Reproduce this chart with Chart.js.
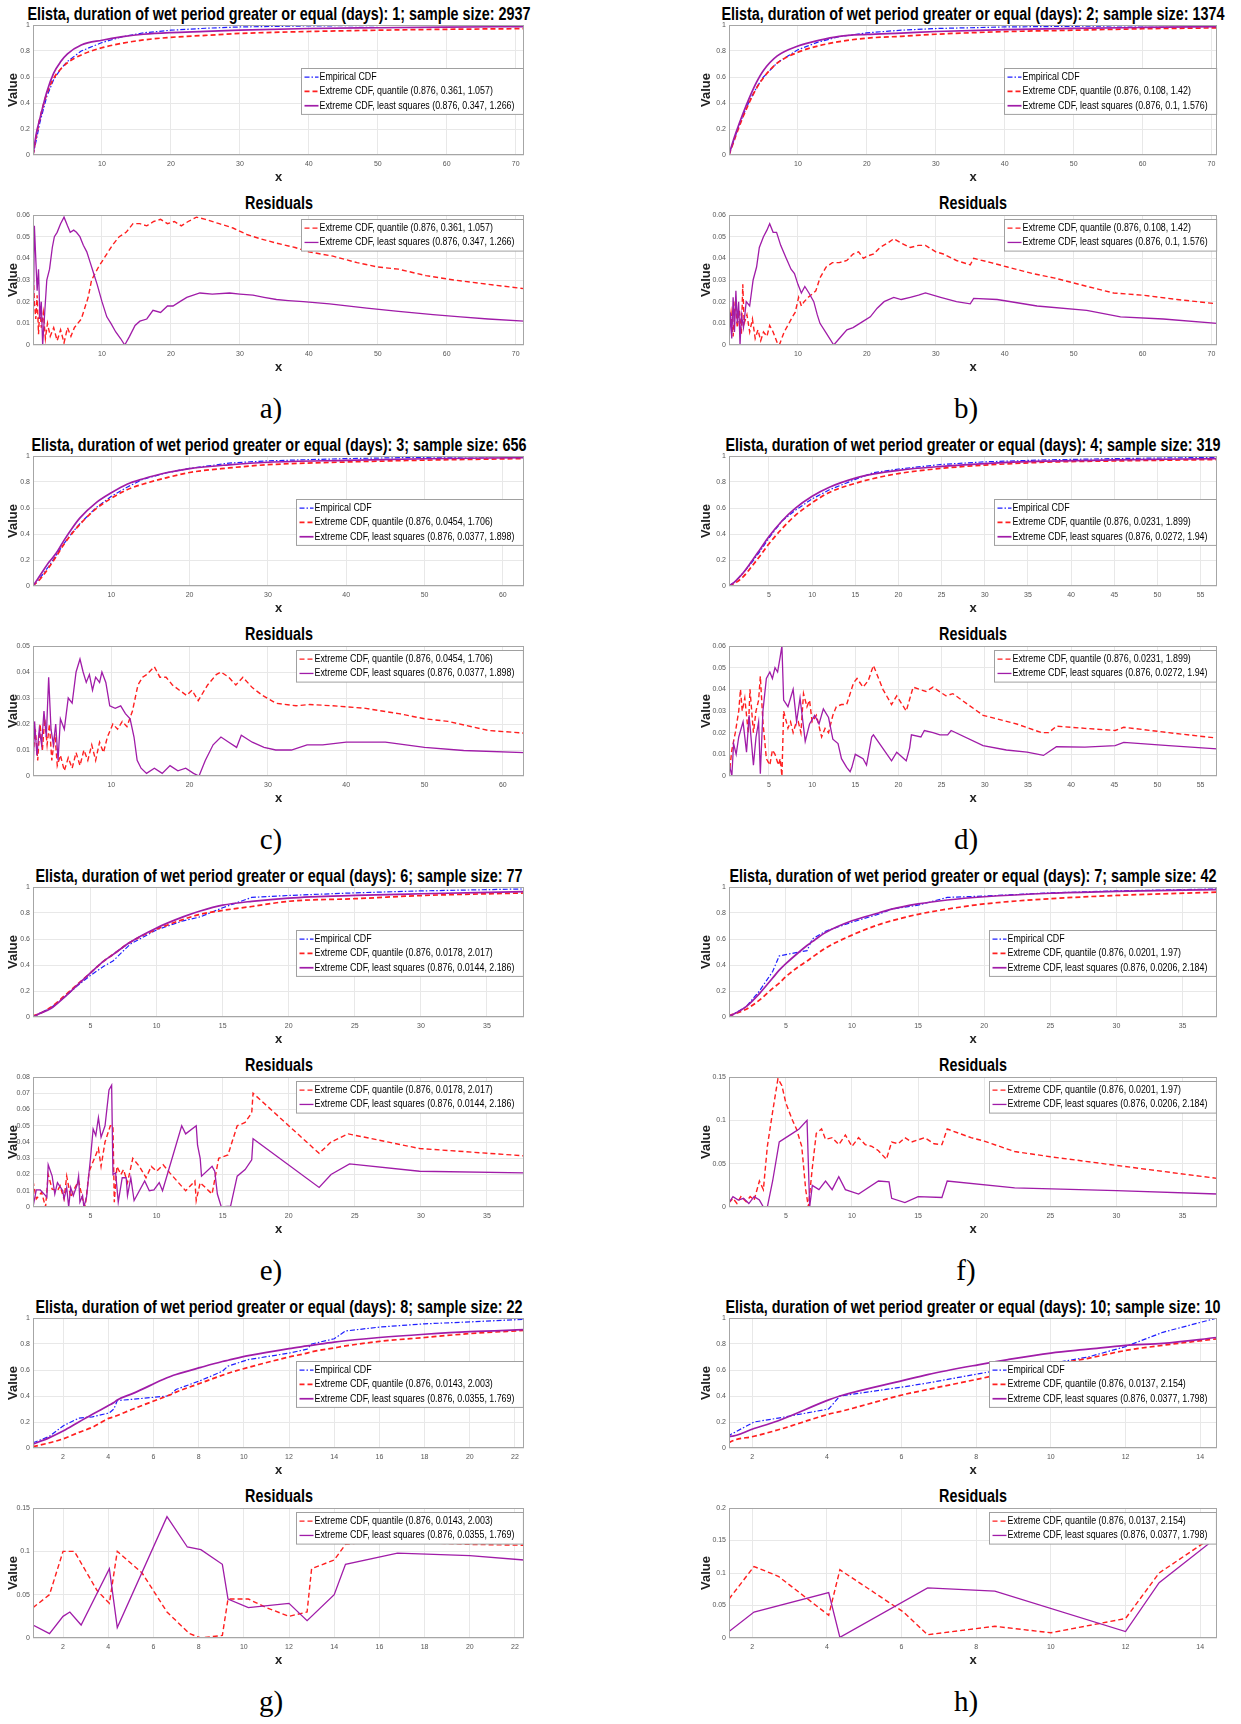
<!DOCTYPE html>
<html>
<head>
<meta charset="utf-8">
<script src="https://cdn.jsdelivr.net/npm/chart.js@4.4.1/dist/chart.umd.min.js"></script>
<style>
  body { margin: 0; background: #fff; width: 1241px; height: 1724px; position: relative; overflow: hidden; }
  canvas { position: absolute; }
  .ttl { position: absolute; font: bold 18px "Liberation Sans", Arial, sans-serif; white-space: nowrap; line-height: 1; color: #000; }
  .lbl { position: absolute; font: 29px "Liberation Serif", "DejaVu Serif", serif; line-height: 1; transform: translate(-50%, -50%); }
</style>
</head>
<body>
<script>
// ---- data: top CDF panels (shared x grid per panel) ----
const aX   = [0, 0.5, 1, 2, 3, 4, 5, 7, 10, 13, 16, 20, 25, 30, 40, 50, 60, 71.2];
const aEmp = [0, 0.12, 0.25, 0.45, 0.58, 0.66, 0.72, 0.8, 0.865, 0.91, 0.94, 0.96, 0.975, 0.985, 0.993, 0.996, 0.998, 0.999];
const aQua = [0, 0.15, 0.28, 0.47, 0.59, 0.66, 0.71, 0.77, 0.825, 0.86, 0.885, 0.905, 0.92, 0.935, 0.95, 0.96, 0.967, 0.972];
const aLsq = [0, 0.17, 0.28, 0.485, 0.63, 0.717, 0.778, 0.846, 0.883, 0.91, 0.929, 0.942, 0.951, 0.961, 0.973, 0.979, 0.984, 0.988];

const bX   = [0, 0.5, 1, 2, 3, 4, 5, 7, 10, 13, 16, 20, 25, 30, 40, 50, 60, 70.8];
const bEmp = [0, 0.08, 0.16, 0.3, 0.42, 0.52, 0.6, 0.71, 0.81, 0.87, 0.91, 0.94, 0.96, 0.973, 0.985, 0.99, 0.994, 0.997];
const bQua = [0, 0.075, 0.15, 0.29, 0.41, 0.515, 0.595, 0.707, 0.79, 0.84, 0.872, 0.899, 0.913, 0.929, 0.949, 0.96, 0.971, 0.978];
const bLsq = [0, 0.09, 0.17, 0.315, 0.445, 0.56, 0.65, 0.762, 0.838, 0.882, 0.913, 0.928, 0.938, 0.95, 0.964, 0.974, 0.981, 0.987];

const cX   = [0, 1, 2, 3, 4, 5, 6, 8, 10, 12, 14, 17, 20, 25, 30, 40, 50, 62.7];
const cEmp = [0, 0.07, 0.15, 0.24, 0.33, 0.41, 0.48, 0.6, 0.69, 0.76, 0.82, 0.87, 0.905, 0.945, 0.963, 0.98, 0.99, 0.996];
const cQua = [0, 0.06, 0.14, 0.23, 0.325, 0.405, 0.475, 0.592, 0.675, 0.74, 0.783, 0.832, 0.873, 0.908, 0.933, 0.954, 0.968, 0.98];
const cLsq = [0, 0.09, 0.18, 0.255, 0.355, 0.445, 0.524, 0.638, 0.717, 0.783, 0.823, 0.871, 0.903, 0.932, 0.952, 0.967, 0.979, 0.987];

const dX   = [0.37, 1, 2, 3, 4, 5, 6.5, 8, 10, 12, 15, 17, 20, 25, 30, 37, 45, 56.9];
const dEmp = [0, 0.03, 0.1, 0.18, 0.27, 0.37, 0.5, 0.58, 0.67, 0.74, 0.82, 0.87, 0.9, 0.935, 0.955, 0.97, 0.98, 0.99];
const dQua = [0, 0.02, 0.07, 0.15, 0.235, 0.325, 0.44, 0.54, 0.64, 0.72, 0.79, 0.825, 0.865, 0.905, 0.93, 0.952, 0.962, 0.973];
const dLsq = [0, 0.03, 0.1, 0.19, 0.285, 0.38, 0.5, 0.595, 0.69, 0.76, 0.83, 0.86, 0.89, 0.92, 0.942, 0.96, 0.97, 0.98];

const eX   = [0.65, 1, 2, 3, 4, 5, 6, 6.7, 8, 10, 12, 13.3, 15, 17.2, 20, 25, 30, 37.8];
const eEmp = [0, 0.02, 0.07, 0.15, 0.24, 0.32, 0.39, 0.43, 0.56, 0.67, 0.74, 0.77, 0.84, 0.92, 0.935, 0.955, 0.97, 0.985];
const eQua = [0.01, 0.02, 0.075, 0.16, 0.25, 0.34, 0.43, 0.48, 0.575, 0.675, 0.75, 0.79, 0.82, 0.85, 0.89, 0.91, 0.934, 0.954];
const eLsq = [0, 0.02, 0.065, 0.15, 0.245, 0.34, 0.43, 0.48, 0.575, 0.685, 0.77, 0.815, 0.86, 0.89, 0.915, 0.935, 0.948, 0.965];

const fX   = [0.7, 1, 2, 3, 4, 4.5, 5, 6, 6.6, 7, 8, 10, 12, 13, 15, 17.2, 20, 25, 30, 37.6];
const fEmp = [0, 0.02, 0.08, 0.2, 0.35, 0.47, 0.48, 0.5, 0.51, 0.6, 0.66, 0.73, 0.79, 0.83, 0.86, 0.92, 0.93, 0.955, 0.97, 0.985];
const fQua = [0.01, 0.02, 0.06, 0.13, 0.22, 0.26, 0.31, 0.39, 0.43, 0.46, 0.53, 0.63, 0.71, 0.74, 0.79, 0.83, 0.87, 0.91, 0.935, 0.96];
const fLsq = [0.01, 0.02, 0.08, 0.18, 0.3, 0.36, 0.41, 0.5, 0.55, 0.58, 0.65, 0.74, 0.8, 0.83, 0.87, 0.9, 0.925, 0.952, 0.966, 0.98];

const gX   = [0.67, 1.4, 2, 2.7, 3.3, 4.05, 4.25, 4.4, 5.1, 6.6, 6.75, 7, 8.1, 9.05, 9.3, 10.2, 12, 12.8, 13, 14, 14.5, 16, 18, 20, 22.4];
const gEmp = [0.04, 0.09, 0.17, 0.23, 0.24, 0.27, 0.3, 0.365, 0.375, 0.4, 0.41, 0.45, 0.52, 0.59, 0.63, 0.68, 0.73, 0.76, 0.8, 0.84, 0.9, 0.93, 0.955, 0.97, 0.99];
const gQua = [0.01, 0.04, 0.07, 0.12, 0.16, 0.23, 0.24, 0.25, 0.3, 0.4, 0.41, 0.43, 0.5, 0.56, 0.575, 0.62, 0.7, 0.73, 0.74, 0.77, 0.785, 0.82, 0.85, 0.88, 0.905];
const gLsq = [0.03, 0.08, 0.13, 0.2, 0.26, 0.33, 0.35, 0.37, 0.42, 0.54, 0.55, 0.565, 0.62, 0.665, 0.675, 0.71, 0.765, 0.785, 0.79, 0.815, 0.825, 0.85, 0.875, 0.895, 0.91];

const hX   = [1.38, 1.4, 2.05, 2.7, 4.05, 4.35, 6.05, 6.7, 8.05, 8.85, 10, 11, 12, 13, 14.45];
const hEmp = [0, 0.1, 0.2, 0.23, 0.3, 0.4, 0.47, 0.5, 0.57, 0.61, 0.65, 0.7, 0.78, 0.89, 1.0];
const hQua = [0.04, 0.045, 0.09, 0.14, 0.26, 0.28, 0.41, 0.45, 0.53, 0.58, 0.64, 0.69, 0.75, 0.79, 0.84];
const hLsq = [0.09, 0.09, 0.15, 0.21, 0.37, 0.4, 0.52, 0.565, 0.64, 0.68, 0.73, 0.76, 0.79, 0.805, 0.85];

// ---- data: residuals, [x, value] pairs ----
const aResQua = [[0,0.035],[0.2,0.02],[0.4,0.012],[0.6,0.023],[0.8,0.005],[1,0.018],[1.2,0.008],[1.5,0.015],[1.8,0.003],[2.1,0.01],[2.5,0.004],[3,0.008],[3.5,0.002],[4,0.007],[4.5,0.001],[5,0.008],[5.5,0.004],[6,0.008],[7,0.012],[8,0.022],[8.5,0.03],[9.5,0.036],[10.5,0.041],[11.5,0.046],[12.5,0.05],[13.5,0.052],[14.5,0.056],[15.5,0.056],[16.5,0.055],[17.5,0.057],[18.5,0.058],[19.5,0.056],[20.5,0.057],[21.5,0.055],[22.5,0.057],[23.7,0.059],[25,0.058],[27,0.056],[29,0.054],[31,0.051],[33,0.049],[35.3,0.047],[38,0.045],[40,0.043],[43.5,0.041],[47,0.038],[50,0.036],[53,0.035],[57,0.032],[61,0.03],[66,0.028],[71.2,0.026]];
const aResLsq = [[0,0],[0.2,0.055],[0.4,0.04],[0.6,0.025],[0.8,0.035],[1,0.012],[1.2,0.02],[1.4,0],[1.7,0.015],[2,0.03],[2.4,0.035],[2.8,0.045],[3.1,0.05],[3.5,0.052],[4,0.056],[4.5,0.059],[5,0.055],[5.4,0.052],[5.9,0.053],[6.3,0.052],[6.8,0.05],[7.3,0.046],[7.8,0.043],[8.3,0.038],[8.8,0.033],[9.3,0.028],[10,0.02],[10.7,0.013],[11.3,0.01],[12,0.006],[12.7,0.003],[13.3,0],[14,0.004],[14.8,0.009],[15.5,0.011],[16.5,0.012],[17.4,0.016],[18.5,0.015],[19.5,0.018],[20.3,0.018],[21.3,0.02],[22.3,0.022],[24.2,0.024],[26,0.0235],[28.5,0.024],[30,0.0235],[31.9,0.023],[33.5,0.022],[35.3,0.021],[37,0.0205],[39.2,0.02],[43,0.019],[48.4,0.017],[53,0.0155],[58,0.014],[62,0.013],[66,0.012],[71.2,0.011]];

const bResQua = [[0,0.007],[0.3,0.015],[0.6,0.004],[0.9,0.02],[1.2,0.008],[1.5,0.016],[1.8,0.005],[2,0.028],[2.2,0.01],[2.6,0.014],[3,0.006],[3.4,0.012],[3.8,0.003],[4.2,0.007],[4.6,0.002],[5,0.006],[5.5,0.004],[5.9,0.009],[6.4,0.006],[7,0.001],[7.3,0],[8,0.006],[8.7,0.01],[9.2,0.013],[9.6,0.015],[10.1,0.022],[10.5,0.018],[10.9,0.02],[11.5,0.022],[12.6,0.025],[13.2,0.031],[14.1,0.036],[15,0.038],[16,0.038],[17.1,0.039],[18,0.042],[18.8,0.043],[19.5,0.04],[20,0.041],[21,0.042],[21.9,0.045],[23,0.047],[23.9,0.049],[25,0.047],[26.3,0.045],[27.5,0.046],[28.5,0.046],[30,0.043],[31.1,0.042],[33,0.039],[35,0.037],[35.5,0.04],[38,0.038],[40.4,0.036],[44,0.033],[47.1,0.031],[52,0.027],[55.8,0.024],[60,0.023],[65,0.021],[70.8,0.019]];
const bResLsq = [[0,0],[0.2,0.015],[0.4,0.003],[0.6,0.022],[0.8,0.006],[1,0.025],[1.2,0.01],[1.4,0.02],[1.6,0],[1.8,0.014],[2.1,0.008],[2.5,0.02],[3,0.018],[3.5,0.03],[4,0.036],[4.4,0.045],[5,0.05],[5.5,0.053],[5.9,0.056],[6.4,0.052],[6.9,0.052],[7.5,0.046],[8.3,0.04],[9,0.035],[9.5,0.033],[10,0.028],[10.5,0.024],[11,0.027],[11.6,0.024],[12.3,0.02],[12.8,0.014],[13.2,0.01],[14.2,0.005],[15.2,0],[16,0.003],[17.1,0.007],[18,0.008],[19.5,0.011],[20.5,0.013],[21.5,0.017],[22.5,0.02],[23.9,0.022],[25,0.021],[26.3,0.022],[27.5,0.023],[28.5,0.024],[30.7,0.022],[33,0.02],[35,0.019],[35.5,0.0215],[38.9,0.021],[44.7,0.018],[51.9,0.016],[56.8,0.013],[63,0.012],[70.8,0.01]];

const cResQua = [[0,0.008],[0.3,0.018],[0.6,0.006],[0.9,0.02],[1.2,0.01],[1.5,0.022],[1.8,0.012],[2.1,0.02],[2.4,0.006],[2.8,0.016],[3.1,0.004],[3.5,0.008],[4,0.002],[4.5,0.007],[5,0.003],[5.5,0.009],[6,0.004],[6.5,0.01],[7,0.006],[7.5,0.012],[8,0.006],[8.5,0.013],[9,0.009],[9.5,0.015],[10.2,0.02],[10.8,0.018],[11.4,0.021],[12,0.019],[12.7,0.025],[13.4,0.035],[14,0.038],[14.5,0.039],[15.5,0.042],[16.2,0.038],[17,0.038],[17.8,0.035],[18.7,0.033],[19.6,0.031],[20.3,0.033],[21.1,0.029],[22.3,0.035],[23.4,0.039],[24,0.04],[25,0.038],[25.9,0.035],[26.8,0.038],[28,0.034],[29.3,0.031],[31,0.028],[33.6,0.027],[35.3,0.0275],[38.3,0.027],[42.5,0.026],[46.7,0.024],[50,0.022],[53,0.021],[58.2,0.0175],[62.7,0.0165]];
const cResLsq = [[0,0],[0.2,0.021],[0.5,0.008],[0.8,0.018],[1.1,0.012],[1.4,0.025],[1.7,0.015],[2,0.038],[2.3,0.018],[2.6,0.012],[2.9,0.02],[3.2,0.006],[3.5,0.022],[4,0.018],[4.5,0.03],[5,0.028],[5.5,0.04],[6,0.045],[6.4,0.04],[6.8,0.036],[7.2,0.039],[7.6,0.033],[8,0.038],[8.5,0.036],[8.8,0.04],[9.3,0.036],[9.8,0.027],[10.5,0.026],[11.2,0.027],[11.8,0.024],[12.4,0.022],[12.9,0.015],[13.3,0.006],[13.8,0.003],[14.5,0.001],[15.5,0.003],[16.5,0.001],[17.5,0.004],[18.5,0.002],[19.5,0.003],[20.5,0.001],[21.2,0],[22,0.006],[23,0.012],[24,0.015],[25,0.013],[26,0.011],[26.6,0.0157],[28,0.013],[29.5,0.011],[31,0.01],[33,0.01],[35,0.012],[37,0.012],[40,0.013],[45,0.013],[50,0.011],[55,0.0098],[62.7,0.009]];

const dResQua = [[0.37,0],[0.7,0.012],[1.1,0.02],[1.5,0.03],[1.7,0.04],[1.9,0.03],[2.2,0.036],[2.6,0.02],[2.8,0.04],[3.2,0.02],[3.5,0.03],[3.8,0.035],[4,0.046],[4.3,0.025],[4.7,0.008],[5.1,0.005],[5.4,0.012],[5.7,0.01],[6.1,0.005],[6.3,0.008],[6.5,0],[6.7,0.03],[7.2,0.022],[7.5,0.025],[7.8,0.02],[8.1,0.024],[8.4,0.025],[8.7,0.02],[9,0.038],[9.4,0.032],[9.7,0.035],[10,0.025],[10.5,0.028],[11.1,0.018],[11.5,0.022],[11.9,0.02],[12.4,0.028],[12.8,0.032],[13.4,0.033],[14,0.033],[14.8,0.043],[15.2,0.045],[15.9,0.041],[16.5,0.044],[17.1,0.051],[18.2,0.04],[19.2,0.033],[19.8,0.037],[20.9,0.03],[21.7,0.041],[23.2,0.039],[24,0.041],[25.5,0.037],[26.3,0.038],[29.8,0.028],[33.7,0.024],[36.6,0.02],[37.4,0.02],[38.3,0.023],[41.6,0.022],[45.1,0.021],[46.1,0.0225],[51.3,0.02],[56.9,0.0175]];
const dResLsq = [[0.37,0.006],[0.7,0],[0.9,0.015],[1.2,0.01],[1.5,0.018],[2,0.025],[2.4,0.011],[2.7,0.028],[3.2,0.005],[3.5,0.018],[3.8,0.025],[4,0.001],[4.3,0.03],[4.7,0.045],[5.1,0.048],[5.4,0.045],[5.7,0.05],[6,0.048],[6.3,0.055],[6.5,0.06],[6.7,0.035],[7.2,0.032],[7.5,0.036],[7.8,0.04],[8.2,0.025],[8.6,0.036],[9.2,0.016],[9.7,0.024],[10.3,0.028],[10.8,0.024],[11.3,0.031],[11.9,0.027],[12.4,0.017],[13,0.015],[13.4,0.008],[14,0.004],[14.4,0.002],[14.6,0.004],[15,0.01],[15.9,0.008],[16.3,0.005],[16.9,0.018],[17.1,0.019],[19.2,0.007],[19.8,0.011],[20.9,0.007],[21.3,0.013],[21.5,0.019],[22.6,0.018],[23,0.021],[24,0.02],[24.8,0.019],[25.7,0.019],[26.1,0.021],[29.8,0.014],[32.5,0.012],[34.9,0.011],[36.8,0.0095],[38.3,0.0135],[41.6,0.0133],[45.1,0.014],[46.1,0.0155],[51.3,0.014],[56.9,0.0125]];

const eResQua = [[0.65,0.016],[0.9,0.005],[1.3,0.009],[1.6,0],[1.8,0.02],[2.1,0.011],[2.5,0.01],[2.7,0.013],[3,0.005],[3.2,0.019],[3.5,0.006],[3.7,0.01],[4.1,0.016],[4.4,0.005],[4.6,0],[4.9,0.022],[5.3,0.03],[5.6,0.036],[5.8,0.025],[6.1,0.04],[6.5,0.05],[6.7,0.05],[6.8,0.003],[7,0.025],[7.3,0.02],[7.5,0.023],[7.8,0.015],[8.2,0.03],[8.7,0.025],[9.2,0.018],[9.6,0.025],[10,0.022],[10.5,0.026],[11,0.021],[12.2,0.01],[12.9,0.016],[13,0.004],[13.3,0.015],[14.2,0.008],[14.7,0.03],[15.4,0.032],[16.1,0.05],[16.7,0.052],[17.2,0.058],[17.3,0.07],[22.3,0.033],[23.2,0.04],[24.5,0.045],[29.9,0.036],[37.8,0.0315]];
const eResLsq = [[0.65,0],[0.9,0.0105],[1.2,0.0105],[1.6,0.007],[1.7,0.006],[1.8,0.026],[2.1,0.019],[2.3,0.008],[2.5,0.015],[2.9,0.01],[3,0.005],[3.2,0.012],[3.35,0],[3.5,0.012],[3.7,0.007],[4,0.014],[4.1,0.019],[4.2,0.003],[4.4,0.007],[4.5,0],[4.7,0.006],[5,0.03],[5.2,0.048],[5.4,0.044],[5.6,0.055],[5.8,0.043],[6.1,0.05],[6.4,0.072],[6.6,0.075],[6.7,0.02],[6.9,0.021],[7.1,0.003],[7.4,0.018],[7.7,0.018],[7.8,0.007],[8.05,0.018],[8.3,0.004],[9.1,0.016],[9.45,0.01],[9.8,0.0105],[10.2,0.015],[10.45,0.01],[11.9,0.05],[12.2,0.045],[13,0.05],[13.1,0.038],[13.3,0.03],[13.4,0.019],[14.2,0.025],[14.4,0.022],[14.6,0.008],[14.9,0],[15.6,0.0005],[16.1,0.019],[16.7,0.023],[17.2,0.029],[17.3,0.042],[22.3,0.012],[23.2,0.02],[24.6,0.0265],[29.9,0.022],[37.8,0.021]];

const fResQua = [[0.7,0.005],[1,0.01],[1.3,0.004],[1.6,0.012],[2,0.006],[2.3,0.012],[2.6,0.008],[3,0.03],[3.3,0.02],[3.6,0.07],[4,0.11],[4.4,0.148],[4.7,0.14],[5,0.12],[5.5,0.1],[5.8,0.09],[6.2,0.07],[6.5,0.02],[6.7,0],[7,0.045],[7.3,0.085],[7.7,0.09],[8,0.078],[8.5,0.08],[9,0.072],[9.5,0.083],[10,0.07],[10.5,0.08],[11,0.072],[11.5,0.07],[12,0.065],[12.6,0.055],[13,0.075],[13.5,0.073],[14,0.08],[14.5,0.075],[15.5,0.08],[16.2,0.073],[16.8,0.072],[17.2,0.09],[19,0.08],[20,0.076],[22.3,0.064],[25,0.058],[30,0.048],[37.6,0.033]];
const fResLsq = [[0.7,0.005],[1,0.012],[1.4,0.008],[1.8,0.01],[2.2,0.004],[2.6,0.012],[3,0.008],[3.3,0],[3.6,0],[4,0.03],[4.5,0.075],[5,0.08],[5.5,0.085],[6,0.09],[6.6,0.1],[6.8,0],[7,0.025],[7.5,0.02],[8,0.03],[8.5,0.02],[9,0.035],[9.5,0.02],[10.5,0.015],[12,0.03],[12.8,0.029],[13,0.01],[14,0.005],[15,0.012],[16.8,0.011],[17.2,0.03],[22.3,0.022],[30,0.019],[37.6,0.015]];

const gResQua = [[0.67,0.035],[1.4,0.05],[2,0.1],[2.5,0.1],[3.5,0.055],[4.05,0.04],[4.4,0.1],[5.5,0.075],[6.6,0.03],[7,0.02],[7.6,0.005],[8.1,0],[9.05,0.003],[9.3,0.045],[10.2,0.045],[11,0.035],[12,0.025],[12.8,0.03],[13,0.08],[14,0.09],[14.5,0.108],[16,0.112],[18,0.11],[20,0.108],[22.4,0.107]];
const gResLsq = [[0.67,0.015],[1.4,0.005],[2,0.025],[2.3,0.03],[2.8,0.015],[4.05,0.08],[4.4,0.012],[6.6,0.14],[7.5,0.105],[8.1,0.102],[9.05,0.085],[9.3,0.045],[10.2,0.035],[12,0.04],[12.8,0.02],[14,0.05],[14.5,0.085],[16.8,0.098],[20,0.095],[22.4,0.09]];

const hResQua = [[1.38,0.06],[2.05,0.11],[2.7,0.095],[4.05,0.035],[4.35,0.105],[6.05,0.04],[6.7,0.005],[8.5,0.018],[10,0.008],[12,0.03],[12.9,0.1],[14.45,0.16]];
const hResLsq = [[1.38,0.01],[2.05,0.04],[4.05,0.07],[4.35,0.001],[6.7,0.077],[8.5,0.072],[12,0.01],[12.9,0.085],[14.45,0.155]];

// ---- tick values ----
const xTicks10 = [10, 20, 30, 40, 50, 60, 70];
const xTicks10c = [10, 20, 30, 40, 50, 60];
const xTicks5d = [5, 10, 15, 20, 25, 30, 35, 40, 45, 50, 55];
const xTicks5 = [5, 10, 15, 20, 25, 30, 35];
const xTicks2g = [2, 4, 6, 8, 10, 12, 14, 16, 18, 20, 22];
const xTicks2h = [2, 4, 6, 8, 10, 12, 14];
const yTicksCdf = [0, 0.2, 0.4, 0.6, 0.8, 1];
const yTicks06 = [0, 0.01, 0.02, 0.03, 0.04, 0.05, 0.06];
const yTicks05 = [0, 0.01, 0.02, 0.03, 0.04, 0.05];
const yTicks08 = [0, 0.01, 0.02, 0.03, 0.04, 0.05, 0.06, 0.07, 0.08];
const yTicks15 = [0, 0.05, 0.1, 0.15];
const yTicks20 = [0, 0.05, 0.1, 0.15, 0.2];

const panels = [
  {tag: 'a)', days: 1,  size: 2937, x: aX, emp: aEmp, qua: aQua, lsq: aLsq, rq: aResQua, rl: aResLsq, xMin: 0,    xMax: 71.2,  xt: xTicks10,  rMax: 0.06, rt: yTicks06, qp: '(0.876, 0.361, 1.057)',  lp: '(0.876, 0.347, 1.266)'},
  {tag: 'b)', days: 2,  size: 1374, x: bX, emp: bEmp, qua: bQua, lsq: bLsq, rq: bResQua, rl: bResLsq, xMin: 0,    xMax: 70.8,  xt: xTicks10,  rMax: 0.06, rt: yTicks06, qp: '(0.876, 0.108, 1.42)',   lp: '(0.876, 0.1, 1.576)'},
  {tag: 'c)', days: 3,  size: 656,  x: cX, emp: cEmp, qua: cQua, lsq: cLsq, rq: cResQua, rl: cResLsq, xMin: 0,    xMax: 62.7,  xt: xTicks10c, rMax: 0.05, rt: yTicks05, qp: '(0.876, 0.0454, 1.706)', lp: '(0.876, 0.0377, 1.898)'},
  {tag: 'd)', days: 4,  size: 319,  x: dX, emp: dEmp, qua: dQua, lsq: dLsq, rq: dResQua, rl: dResLsq, xMin: 0.37, xMax: 56.9,  xt: xTicks5d,  rMax: 0.06, rt: yTicks06, qp: '(0.876, 0.0231, 1.899)', lp: '(0.876, 0.0272, 1.94)'},
  {tag: 'e)', days: 6,  size: 77,   x: eX, emp: eEmp, qua: eQua, lsq: eLsq, rq: eResQua, rl: eResLsq, xMin: 0.65, xMax: 37.8,  xt: xTicks5,   rMax: 0.08, rt: yTicks08, qp: '(0.876, 0.0178, 2.017)', lp: '(0.876, 0.0144, 2.186)'},
  {tag: 'f)', days: 7,  size: 42,   x: fX, emp: fEmp, qua: fQua, lsq: fLsq, rq: fResQua, rl: fResLsq, xMin: 0.7,  xMax: 37.6,  xt: xTicks5,   rMax: 0.15, rt: yTicks15, qp: '(0.876, 0.0201, 1.97)',  lp: '(0.876, 0.0206, 2.184)'},
  {tag: 'g)', days: 8,  size: 22,   x: gX, emp: gEmp, qua: gQua, lsq: gLsq, rq: gResQua, rl: gResLsq, xMin: 0.67, xMax: 22.4,  xt: xTicks2g,  rMax: 0.15, rt: yTicks15, qp: '(0.876, 0.0143, 2.003)', lp: '(0.876, 0.0355, 1.769)'},
  {tag: 'h)', days: 10, size: 10,   x: hX, emp: hEmp, qua: hQua, lsq: hLsq, rq: hResQua, rl: hResLsq, xMin: 1.38, xMax: 14.45, xt: xTicks2h,  rMax: 0.2,  rt: yTicks20, qp: '(0.876, 0.0137, 2.154)', lp: '(0.876, 0.0377, 1.798)'}
];

// ---- layout ----
const colLeft = [33, 729], colRight = [524, 1217];
const rowStep = 431, cdfTop = 25, resTop = 215, plotH = 130;
const yAxisW = 33, xAxisH = 30, padTop = 8, padRight = 8;
const EMP = '#1f1fff', QUA = '#ff1f1f', LSQ = '#a01ca8';
const FONT = '"Liberation Sans", Arial, sans-serif';
Chart.defaults.font.family = FONT;

const meas = document.createElement('canvas').getContext('2d');
function titleText(p) { return 'Elista, duration of wet period greater or equal (days): ' + p.days + '; sample size: ' + p.size; }
meas.font = 'bold 18px ' + FONT;
const titleSq = 503 / meas.measureText(titleText(panels[0])).width;
meas.font = '10px ' + FONT;
const legSq = 195 / meas.measureText('Extreme CDF, least squares (0.876, 0.347, 1.266)').width;

function pts(xs, ys) { return xs.map((x, i) => ({x: x, y: ys[i]})); }
function pairs(arr) { return arr.map(v => ({x: v[0], y: v[1]})); }

const frame = {
  id: 'frame',
  afterDatasetsDraw(chart) {
    const a = chart.chartArea, c = chart.ctx;
    c.save();
    c.strokeStyle = '#a6a6a6';
    c.lineWidth = 1;
    c.strokeRect(Math.round(a.left) + 0.5, Math.round(a.top) + 0.5, Math.round(a.width) - 1, Math.round(a.height) - 1);
    c.restore();
  }
};

const boxLegend = {
  id: 'boxLegend',
  afterDraw(chart, args, opts) {
    const c = chart.ctx, a = chart.chartArea, sets = chart.data.datasets;
    c.save();
    c.font = '10px ' + FONT;
    const tw = Math.max(...sets.map(d => c.measureText(d.label).width)) * legSq;
    const rowH = 14.3, w = tw + 27, h = sets.length * rowH + 3;
    const x0 = Math.round(a.right - w - 1) + 0.5;
    const y0 = Math.round(opts.mid ? a.top + a.height * 0.33 : a.top + 4) + 0.5;
    c.fillStyle = '#fff';
    c.fillRect(x0, y0, w, h);
    c.strokeStyle = '#a0a0a0';
    c.lineWidth = 1;
    c.strokeRect(x0, y0, w, h);
    sets.forEach((d, i) => {
      const y = y0 + 1.5 + rowH * (i + 0.5);
      c.strokeStyle = d.borderColor;
      c.lineWidth = d.borderWidth;
      c.setLineDash(d.borderDash || []);
      c.beginPath();
      c.moveTo(x0 + 3, y);
      c.lineTo(x0 + 17, y);
      c.stroke();
      c.setLineDash([]);
      c.save();
      c.translate(x0 + 18, y);
      c.scale(legSq, 1);
      c.fillStyle = '#000';
      c.textBaseline = 'middle';
      c.fillText(d.label, 0, 0);
      c.restore();
    });
    c.restore();
  }
};

function addCanvas(left, top, w, h) {
  const cv = document.createElement('canvas');
  cv.width = w; cv.height = h;
  cv.style.left = left + 'px'; cv.style.top = top + 'px';
  cv.style.width = w + 'px'; cv.style.height = h + 'px';
  document.body.appendChild(cv);
  return cv;
}

function addText(cls, text, cx, cy, sq) {
  const d = document.createElement('div');
  d.className = cls;
  d.textContent = text;
  d.style.left = cx + 'px';
  d.style.top = cy + 'px';
  if (sq) d.style.transform = 'translate(-50%, -50%) scaleX(' + sq + ')';
  document.body.appendChild(d);
}

function axisOpts(col, xMin, xMax, xt, yMax, yt) {
  const tickFont = {size: 7};
  return {
    x: {
      type: 'linear', min: xMin, max: xMax,
      afterBuildTicks: s => { s.ticks = xt.map(v => ({value: v})); },
      afterFit: s => { s.height = xAxisH; },
      grid: {color: '#e8e8e8', drawTicks: false},
      border: {display: false},
      ticks: {font: tickFont, color: '#555', padding: 5, maxRotation: 0, autoSkip: false, callback: v => String(v)},
      title: {display: true, text: 'x', font: {size: 13, weight: 'bold'}, color: '#222', padding: 0}
    },
    y: {
      type: 'linear', min: 0, max: yMax,
      afterBuildTicks: s => { s.ticks = yt.map(v => ({value: v})); },
      afterFit: s => { s.width = yAxisW; },
      grid: {color: '#e8e8e8', drawTicks: false},
      border: {display: false},
      ticks: {font: tickFont, color: '#555', padding: 3, autoSkip: false, callback: v => String(v)},
      title: {display: true, text: 'Value', font: {size: 13, weight: 'bold'}, color: '#222', padding: {top: col ? 3 : 6, bottom: 0}}
    }
  };
}

function makeChart(col, top, datasets, p, yMax, yt, mid) {
  const left = colLeft[col] - yAxisW;
  const w = yAxisW + (colRight[col] - colLeft[col]) + padRight;
  const h = padTop + plotH + xAxisH;
  const cv = addCanvas(left, top - padTop, w, h);
  new Chart(cv, {
    type: 'line',
    data: {datasets: datasets},
    options: {
      responsive: false,
      animation: false,
      devicePixelRatio: 1,
      layout: {padding: {top: padTop, right: padRight, left: 0, bottom: 0}},
      elements: {point: {radius: 0}, line: {fill: false}},
      plugins: {legend: {display: false}, tooltip: {enabled: false}, boxLegend: {mid: mid}},
      scales: axisOpts(col, p.xMin, p.xMax, p.xt, yMax, yt)
    },
    plugins: [frame, boxLegend]
  });
}

panels.forEach((p, i) => {
  const col = i % 2, row = Math.floor(i / 2);
  const cx = (colLeft[col] + colRight[col]) / 2;
  const t1 = cdfTop + row * rowStep, t2 = resTop + row * rowStep;

  addText('ttl', titleText(p), cx, t1 - 11, titleSq);
  addText('ttl', 'Residuals', cx, t2 - 12, titleSq);
  addText('lbl', p.tag, col ? 966 : 271, 408 + row * rowStep);

  makeChart(col, t1, [
    {label: 'Empirical CDF', data: pts(p.x, p.emp), borderColor: EMP, borderWidth: 1.2, borderDash: [5, 2, 1.5, 2], order: 3},
    {label: 'Extreme CDF, quantile ' + p.qp, data: pts(p.x, p.qua), borderColor: QUA, borderWidth: 1.7, borderDash: [5, 3], cubicInterpolationMode: 'monotone', order: 2},
    {label: 'Extreme CDF, least squares ' + p.lp, data: pts(p.x, p.lsq), borderColor: LSQ, borderWidth: 1.7, cubicInterpolationMode: 'monotone', order: 1}
  ], p, 1, yTicksCdf, true);

  makeChart(col, t2, [
    {label: 'Extreme CDF, quantile ' + p.qp, data: pairs(p.rq), borderColor: QUA, borderWidth: 1.4, borderDash: [5, 3], order: 2},
    {label: 'Extreme CDF, least squares ' + p.lp, data: pairs(p.rl), borderColor: LSQ, borderWidth: 1.3, order: 1}
  ], p, p.rMax, p.rt, false);
});
</script>
</body>
</html>
